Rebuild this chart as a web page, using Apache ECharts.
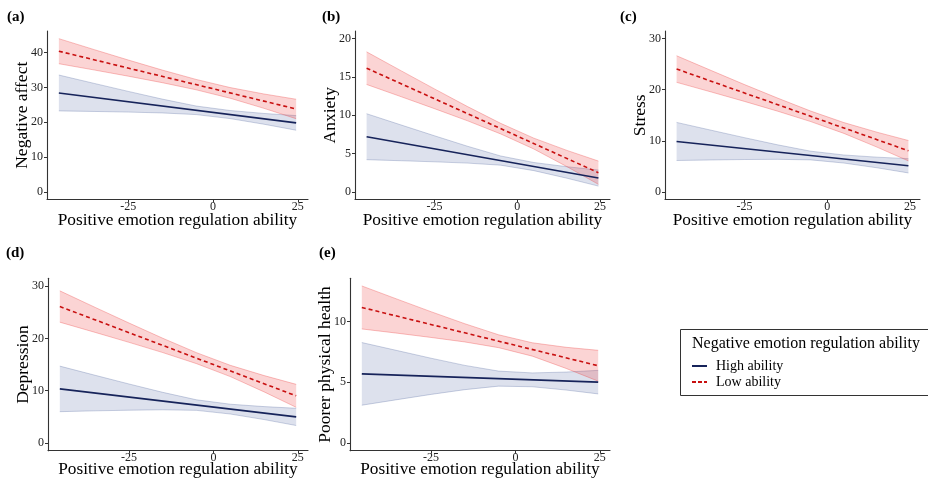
<!DOCTYPE html>
<html>
<head>
<meta charset="utf-8">
<script src="https://cdn.jsdelivr.net/npm/echarts@6/dist/echarts.min.js"></script>
<style>
html,body{margin:0;padding:0;background:#fff;}
#chart{width:928px;height:481px;}
</style>
</head>
<body>
<div id="chart"></div>
<script>
// ---- data ----
const xTicks = [-25, 0, 25];
const bandX = [-45.5, -35, -25, -15, -5, 5, 15, 24.5];
const lineX = [-45.5, 24.5];

const panelLabels = ['(a)', '(b)', '(c)', '(d)', '(e)'];
const yNames = ['Negative affect', 'Anxiety', 'Stress', 'Depression', 'Poorer physical health'];
const xName = 'Positive emotion regulation ability';
const legendTitle = 'Negative emotion regulation ability';
const groupNames = ['High ability', 'Low ability'];

const aYTicks = [0, 10, 20, 30, 40];
const bYTicks = [0, 5, 10, 15, 20];
const cYTicks = [0, 10, 20, 30];
const dYTicks = [0, 10, 20, 30];
const eYTicks = [0, 5, 10];

// (a) Negative affect
const aHighLine = [28.4, 19.8];
const aLowLine = [40.4, 23.8];
const aHighUpper = [33.55, 31.13, 28.85, 26.64, 24.65, 23.36, 22.52, 21.9];
const aHighLower = [23.25, 23.09, 22.91, 22.66, 22.19, 21.04, 19.42, 17.7];
const aLowUpper = [44.0, 40.83, 37.86, 34.98, 32.29, 29.96, 28.11, 26.6];
const aLowLower = [36.8, 34.99, 33.22, 31.36, 29.31, 26.90, 23.99, 21.0];

// (b) Anxiety
const bHighLine = [7.2, 1.8];
const bLowLine = [16.15, 2.5];
const bHighUpper = [10.2, 8.72, 7.32, 5.95, 4.68, 3.83, 3.28, 2.85];
const bHighLower = [4.2, 4.06, 3.92, 3.75, 3.48, 2.77, 1.78, 0.75];
const bLowUpper = [18.28, 15.79, 13.44, 11.13, 8.94, 7.01, 5.41, 4.02];
const bLowLower = [14.02, 12.41, 10.86, 9.27, 7.56, 5.59, 3.29, 0.98];

// (c) Stress
const cHighLine = [9.87, 5.1];
const cLowLine = [24.05, 8.05];
const cHighUpper = [13.6, 12.06, 10.61, 9.21, 7.96, 7.22, 6.79, 6.5];
const cHighLower = [6.14, 6.24, 6.33, 6.37, 6.26, 5.64, 4.71, 3.7];
const cLowUpper = [26.65, 23.75, 21.01, 18.36, 15.82, 13.57, 11.68, 10.05];
const cLowLower = [21.45, 19.55, 17.71, 15.80, 13.76, 11.45, 8.76, 6.05];

// (d) Depression
const dHighLine = [10.33, 4.97];
const dLowLine = [26.1, 9.0];
const dHighUpper = [14.69, 12.93, 11.27, 9.67, 8.24, 7.40, 6.94, 6.62];
const dHighLower = [5.97, 6.13, 6.25, 6.33, 6.22, 5.52, 4.46, 3.32];
const dLowUpper = [29.1, 25.92, 22.94, 20.02, 17.26, 14.84, 12.88, 11.2];
const dLowLower = [23.1, 21.14, 19.24, 17.28, 15.16, 12.68, 9.76, 6.8];

// (e) Poorer physical health
const eHighLine = [5.68, 5.0];
const eLowLine = [11.15, 6.35];
const eHighUpper = [8.26, 7.60, 6.97, 6.38, 5.91, 5.76, 5.83, 5.97];
const eHighLower = [3.10, 3.56, 3.99, 4.38, 4.67, 4.62, 4.35, 4.03];
const eLowUpper = [12.92, 11.83, 10.80, 9.81, 8.90, 8.24, 7.87, 7.62];
const eLowLower = [9.38, 9.03, 8.68, 8.31, 7.84, 7.14, 6.13, 5.08];

// ---- layout / style ----
const FONT = "'Liberation Serif', 'DejaVu Serif', serif";
const NAVY = '#16235a';
const RED = '#c81010';
const BLUE_FILL = 'rgba(45,70,140,0.16)';
const BLUE_EDGE = 'rgba(45,70,140,0.30)';
const RED_FILL = 'rgba(235,60,60,0.22)';
const RED_EDGE = 'rgba(235,60,60,0.40)';

const panels = [
  {grid: {left: 47, top: 31, width: 261, height: 168.5}, yMin: -2.2, yMax: 46.2, yTicks: aYTicks, xGap: 12.5,
   hi: aHighLine, lo: aLowLine, hiU: aHighUpper, hiL: aHighLower, loU: aLowUpper, loL: aLowLower, lab: [7, 18]},
  {grid: {left: 355, top: 31, width: 255, height: 168.5}, yMin: -1, yMax: 21, yTicks: bYTicks, xGap: 12.5,
   hi: bHighLine, lo: bLowLine, hiU: bHighUpper, hiL: bHighLower, loU: bLowUpper, loL: bLowLower, lab: [322, 18]},
  {grid: {left: 665, top: 31, width: 255, height: 168.5}, yMin: -1.5, yMax: 31.5, yTicks: cYTicks, xGap: 12.5,
   hi: cHighLine, lo: cLowLine, hiU: cHighUpper, hiL: cHighLower, loU: cLowUpper, loL: cLowLower, lab: [620, 18]},
  {grid: {left: 48, top: 278.3, width: 260, height: 172.4}, yMin: -1.5, yMax: 31.5, yTicks: dYTicks, xGap: 10.5,
   hi: dHighLine, lo: dLowLine, hiU: dHighUpper, hiL: dHighLower, loU: dLowUpper, loL: dLowLower, lab: [6, 254]},
  {grid: {left: 350, top: 278.3, width: 260, height: 172.4}, yMin: -0.645, yMax: 13.55, yTicks: eYTicks, xGap: 10.5,
   hi: eHighLine, lo: eLowLine, hiU: eHighUpper, hiL: eHighLower, loU: eLowUpper, loL: eLowLower, lab: [319, 254]}
];

const grids = [], xAxes = [], yAxes = [], series = [], graphics = [];
const axisLineStyle = {color: '#333', width: 1.1};

function bandRender(fill, edge) {
  return function (params, api) {
    if (params.dataIndexInside !== 0) return null;
    const n = params.dataInsideLength;
    const up = [], low = [];
    for (let k = 0; k < n; k++) {
      up.push(api.coord([api.value(0, k), api.value(2, k)]));
      low.push(api.coord([api.value(0, k), api.value(1, k)]));
    }
    const poly = up.concat(low.slice().reverse());
    return {
      type: 'group',
      children: [
        {type: 'polygon', shape: {points: poly}, style: {fill: fill, stroke: null}},
        {type: 'polyline', shape: {points: up}, style: {stroke: edge, lineWidth: 0.8, fill: null}},
        {type: 'polyline', shape: {points: low}, style: {stroke: edge, lineWidth: 0.8, fill: null}}
      ]
    };
  };
}

panels.forEach((p, i) => {
  grids.push(Object.assign({containLabel: false}, p.grid));
  xAxes.push({
    type: 'value', gridIndex: i, min: -49, max: 28,
    name: xName, nameLocation: 'middle', nameGap: p.xGap, nameMoveOverlap: false,
    nameTextStyle: {fontFamily: FONT, fontSize: 17.3, color: '#000'},
    splitLine: {show: false},
    axisLine: {show: true, onZero: false, lineStyle: axisLineStyle},
    axisTick: {show: true, length: 3, lineStyle: {color: '#333'}, customValues: xTicks},
    axisLabel: {fontFamily: FONT, fontSize: 12, color: '#222', margin: 1, customValues: xTicks}
  });
  yAxes.push({
    type: 'value', gridIndex: i, min: p.yMin, max: p.yMax,
    name: yNames[i], nameLocation: 'middle', nameGap: 15.5, nameMoveOverlap: false,
    nameTextStyle: {fontFamily: FONT, fontSize: 17.5, color: '#000'},
    splitLine: {show: false},
    axisLine: {show: true, onZero: false, lineStyle: axisLineStyle},
    axisTick: {show: true, length: 3, lineStyle: {color: '#333'}, customValues: p.yTicks},
    axisLabel: {fontFamily: FONT, fontSize: 12, color: '#222', margin: 4, customValues: p.yTicks}
  });

  const addBand = (lower, upper, edge, fill) => {
    series.push({
      type: 'custom', xAxisIndex: i, yAxisIndex: i, silent: true, clip: true,
      data: bandX.map((x, j) => [x, lower[j], upper[j]]),
      encode: {x: 0, y: [1, 2]},
      renderItem: bandRender(fill, edge), z: 1
    });
  };
  addBand(p.hiL, p.hiU, BLUE_EDGE, BLUE_FILL);
  addBand(p.loL, p.loU, RED_EDGE, RED_FILL);

  series.push({
    type: 'line', name: groupNames[0], xAxisIndex: i, yAxisIndex: i, symbol: 'none', showSymbol: false,
    data: lineX.map((x, j) => [x, p.hi[j]]),
    lineStyle: {color: NAVY, width: 1.6}, itemStyle: {color: NAVY}, z: 3
  });
  series.push({
    type: 'line', name: groupNames[1], xAxisIndex: i, yAxisIndex: i, symbol: 'none', showSymbol: false,
    data: lineX.map((x, j) => [x, p.lo[j]]),
    lineStyle: {color: RED, width: 1.6, type: [4, 3]}, itemStyle: {color: RED}, z: 3
  });

  graphics.push({
    type: 'text', left: p.lab[0], top: p.lab[1] - 8,
    style: {text: panelLabels[i], font: "bold 15px " + FONT, fill: '#000'}
  });
});

graphics.push({
  type: 'rect', left: 680, top: 329, silent: true,
  shape: {width: 252, height: 66},
  style: {fill: '#fff', stroke: '#333', lineWidth: 1}, z: 0
});
graphics.push({
  type: 'text', left: 692, top: 336,
  style: {text: legendTitle, font: "16px " + FONT, fill: '#000'}, z: 1
});

const option = {
  animation: false,
  backgroundColor: '#fff',
  grid: grids,
  xAxis: xAxes,
  yAxis: yAxes,
  legend: {
    data: [
      {name: groupNames[0], icon: 'path://M0,0h15v2h-15z', itemStyle: {color: NAVY}},
      {name: groupNames[1], icon: 'path://M0,0h4v2h-4zM6,0h4v2h-4zM12,0h3v2h-3z', itemStyle: {color: RED}}
    ],
    orient: 'vertical', left: 692, top: 359,
    itemWidth: 15, itemHeight: 2, itemGap: 2, padding: 0, symbolKeepAspect: false,
    textStyle: {fontFamily: FONT, fontSize: 14, color: '#000', padding: [0, 0, 0, 4]},
    z: 5
  },
  graphic: graphics,
  series: series
};

const chart = echarts.init(document.getElementById('chart'), null, {renderer: 'canvas'});
chart.setOption(option);
</script>
</body>
</html>
